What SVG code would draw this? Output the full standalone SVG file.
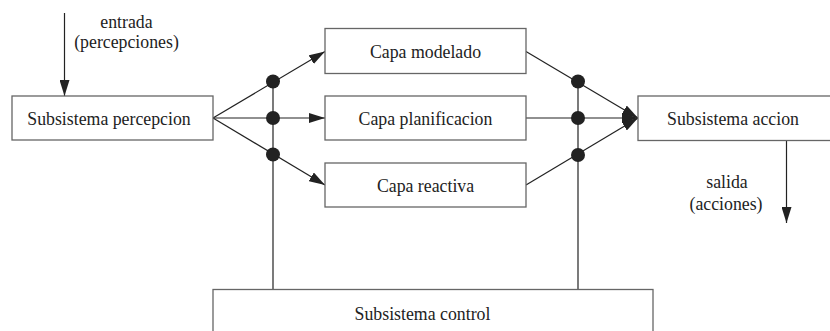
<svg xmlns="http://www.w3.org/2000/svg" width="830" height="331" viewBox="0 0 830 331">
<defs>
<style>
.box{fill:#fff;stroke:#666;stroke-width:1.3}
text{font-family:'Liberation Serif','DejaVu Serif',serif;font-size:17.8px;fill:#222;text-anchor:middle}
.ln{stroke:#222;stroke-width:1.2;fill:none}
.dot{fill:#222}
</style>
<marker id="ah" viewBox="0 0 16 10" refX="16" refY="5" markerWidth="16" markerHeight="10" markerUnits="userSpaceOnUse" orient="auto">
<path d="M0,0 L16,5 L0,10 Z" fill="#222"/>
</marker>
</defs>
<rect width="830" height="331" fill="#fff"/>
<g id="connectors">
<line class="ln" x1="64.5" y1="13" x2="64.5" y2="96" marker-end="url(#ah)"/>
<line class="ln" x1="213" y1="118" x2="325" y2="51.5" marker-end="url(#ah)"/>
<line class="ln" x1="213" y1="118" x2="325" y2="118" marker-end="url(#ah)"/>
<line class="ln" x1="213" y1="118" x2="325" y2="185" marker-end="url(#ah)"/>
<line class="ln" x1="273" y1="81" x2="273" y2="289"/>
<line class="ln" x1="526" y1="51.5" x2="638" y2="118" marker-end="url(#ah)"/>
<line class="ln" x1="526" y1="118" x2="638" y2="118" marker-end="url(#ah)"/>
<line class="ln" x1="526" y1="185" x2="638" y2="118" marker-end="url(#ah)"/>
<line class="ln" x1="578" y1="81" x2="578" y2="289"/>
<line class="ln" x1="786.5" y1="141" x2="786.5" y2="223" marker-end="url(#ah)"/>
<circle class="dot" cx="273" cy="81.5" r="7"/>
<circle class="dot" cx="273" cy="118" r="7"/>
<circle class="dot" cx="273" cy="154.5" r="7"/>
<circle class="dot" cx="578" cy="81.5" r="7"/>
<circle class="dot" cx="578" cy="118" r="7"/>
<circle class="dot" cx="578" cy="155" r="7"/>
</g>
<g id="entrada-label" font-family="Liberation Serif, serif">
<text x="126.5" y="28">entrada</text>
<text x="126.5" y="48">(percepciones)</text>
</g>
<g id="percepcion">
<rect class="box" x="12" y="96" width="201" height="44"/>
<text x="109" y="125">Subsistema percepcion</text>
</g>
<g id="modelado">
<rect class="box" x="325" y="28.5" width="201" height="45"/>
<text x="425.5" y="57.5">Capa modelado</text>
</g>
<g id="planificacion">
<rect class="box" x="325" y="96" width="201" height="44"/>
<text x="425.5" y="124.5">Capa planificacion</text>
</g>
<g id="reactiva">
<rect class="box" x="325" y="163" width="201" height="44"/>
<text x="425.5" y="191.5">Capa reactiva</text>
</g>
<g id="accion">
<rect class="box" x="638" y="96" width="200" height="44.5"/>
<text x="733" y="125">Subsistema accion</text>
</g>
<g id="salida-label">
<text x="727" y="188">salida</text>
<text x="726" y="210">(acciones)</text>
</g>
<g id="control">
<rect class="box" x="213" y="289.5" width="440" height="60"/>
<text x="422.5" y="320">Subsistema control</text>
</g>
</svg>
